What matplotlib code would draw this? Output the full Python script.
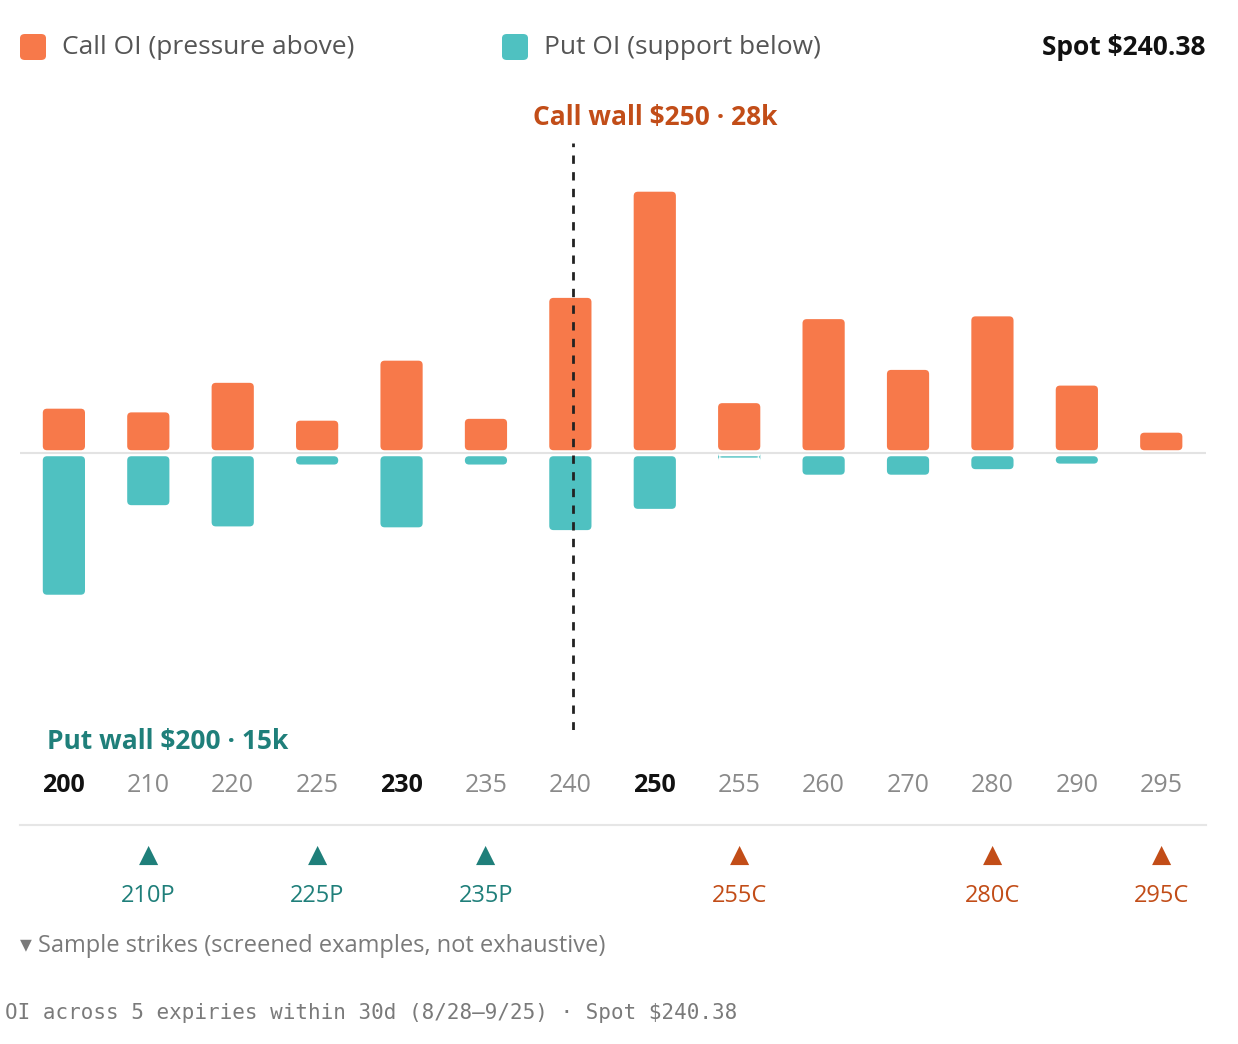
import matplotlib.pyplot as plt
from matplotlib.patches import FancyBboxPatch
from matplotlib.transforms import blended_transform_factory

strikes = ['200', '210', '220', '225', '230', '235', '240', '250', '255', '260', '270', '280', '290', '295']
call_oi = [4.5, 4.1, 7.3, 3.2, 9.7, 3.4, 16.5, 28.0, 5.1, 14.2, 8.7, 14.5, 7.0, 1.9]
put_oi = [15.0, 5.3, 7.6, 0.9, 7.7, 0.9, 8.0, 5.7, 0.15, 2.0, 2.0, 1.4, 0.8, 0.0]
bold_strikes = ['200', '230', '250']
samples = ['210P', '225P', '235P', '255C', '280C', '295C']

CALL = '#f7794a'
PUT = '#4fc1c1'
CALL_DK = '#c24d18'
PUT_DK = '#1f7f7a'
GRAY = '#7a7a7a'

plt.rcParams['font.family'] = ['Open Sans', 'DejaVu Sans']

W, H = 1238, 1044
fig = plt.figure(figsize=(W / 100, H / 100), dpi=100)

def px(x0, y0, x1, y1):
    return [x0 / W, 1 - y1 / H, (x1 - x0) / W, (y1 - y0) / H]

ax = fig.add_axes(px(20, 140, 1206, 730))
ax.set_xlim(-0.52, 13.53)
ax.set_ylim(-30.3, 33.6)
ax.axis('off')
aspect = (63.9 / 590) / (14.05 / 1186)
gap = 0.65
for i in range(len(strikes)):
    if call_oi[i] > 0:
        ax.add_patch(FancyBboxPatch((i - 0.25, 0), 0.5, call_oi[i],
                                    boxstyle='round,pad=0,rounding_size=0.05',
                                    mutation_aspect=aspect, fc=CALL, ec='none'))
    if put_oi[i] > 0:
        ax.add_patch(FancyBboxPatch((i - 0.25, -gap - put_oi[i]), 0.5, put_oi[i],
                                    boxstyle='round,pad=0,rounding_size=0.05',
                                    mutation_aspect=aspect, fc=PUT, ec='none'))
ax.axhline(-0.3, color='#e3e3e3', lw=1.5, zorder=0)
ax.plot([6.03, 6.03], [-30.3, 33.3], ls=(0, (3, 3)), color='#222222', lw=2)

# strike labels
tr = blended_transform_factory(ax.transData, fig.transFigure)
for i, s in enumerate(strikes):
    b = s in bold_strikes
    fig.text(i, 1 - 786 / H, s, transform=tr, ha='center', va='center', fontsize=18,
             color='#111111' if b else '#8a8a8a', fontweight='bold' if b else 'normal')
fig.add_artist(plt.Line2D([20 / W, 1206 / W], [1 - 825 / H] * 2, color='#e6e6e6', lw=1.5))

for s in samples:
    i = strikes.index(s[:-1])
    c = PUT_DK if s.endswith('P') else CALL_DK
    fig.text(i, 1 - 855 / H, '\u25B2', transform=tr, ha='center', va='center', fontsize=18,
             color=c, family=['DejaVu Sans'])
    fig.text(i, 1 - 896 / H, s, transform=tr, ha='center', va='center', fontsize=17, color=c)

# legend and annotations
fig.add_artist(FancyBboxPatch((20 / W, 1 - 60 / H), 26 / W, 26 / H, boxstyle='round,pad=0,rounding_size=0.004',
                              transform=fig.transFigure, fc=CALL, ec='none'))
fig.text(62 / W, 1 - 48 / H, 'Call OI (pressure above)', fontsize=19, color='#555555', va='center')
fig.add_artist(FancyBboxPatch((502 / W, 1 - 60 / H), 26 / W, 26 / H, boxstyle='round,pad=0,rounding_size=0.004',
                              transform=fig.transFigure, fc=PUT, ec='none'))
fig.text(544 / W, 1 - 48 / H, 'Put OI (support below)', fontsize=19, color='#555555', va='center')
fig.text(1205 / W, 1 - 48 / H, 'Spot $240.38', fontsize=19, fontweight='bold', color='#111111',
         ha='right', va='center')
fig.text(655 / W, 1 - 118 / H, 'Call wall $250 \u00b7 28k', fontsize=19, fontweight='bold',
         color=CALL_DK, ha='center', va='center')
fig.text(47 / W, 1 - 741 / H, 'Put wall $200 \u00b7 15k', fontsize=19, fontweight='bold',
         color=PUT_DK, ha='left', va='center')
fig.text(20 / W, 1 - 946 / H, '\u25BE Sample strikes (screened examples, not exhaustive)', fontsize=17,
         color=GRAY, va='center', family=['Open Sans', 'DejaVu Sans'])
fig.text(5 / W, 1 - 1013 / H, 'OI across 5 expiries within 30d (8/28\u20149/25) \u00b7 Spot $240.38',
         fontsize=15, color=GRAY, va='center', family=['DejaVu Sans Mono'])

fig.savefig('out.png', dpi=100)
